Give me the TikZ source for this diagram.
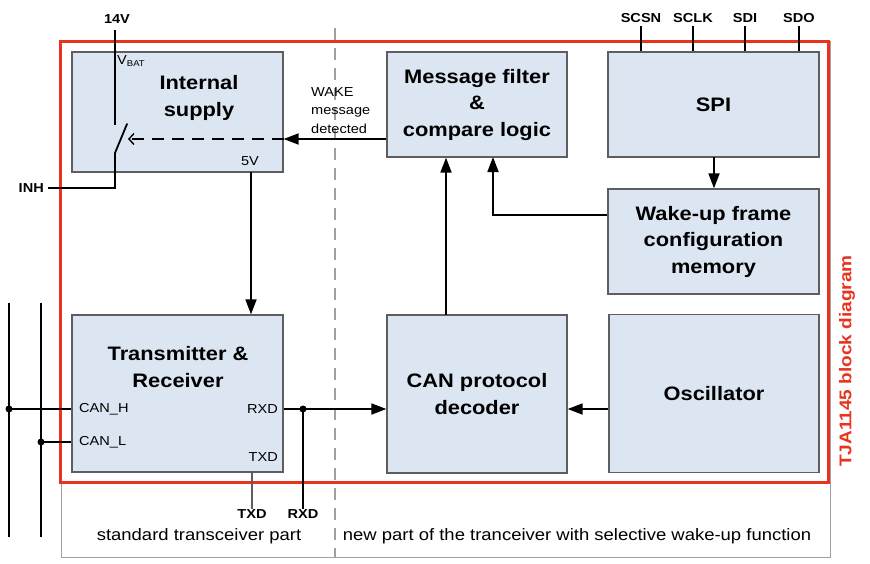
\documentclass[tikz,border=0pt]{standalone}
\usepackage{fontspec}
\setmainfont[FakeStretch=1.12]{Liberation Sans}
\usetikzlibrary{arrows.meta}
\definecolor{boxblue}{HTML}{DCE6F2}
\definecolor{boxline}{HTML}{5E5E5E}
\definecolor{tjared}{HTML}{E8331F}
\definecolor{framegray}{HTML}{A0A0A0}
\newcommand{\tjtitle}{\fontsize{19.5}{26.5}\selectfont\bfseries}
\newcommand{\tjlabel}{\fontsize{13}{18}\selectfont}
\begin{document}
\begin{tikzpicture}[x=1pt,y=-1pt,
  blk/.style={draw=boxline, fill=boxblue, line width=1.3pt, inner sep=0pt, align=center, font=\tjtitle},
  ttl/.style={inner sep=0pt, align=center, font=\tjtitle},
  lbl/.style={inner sep=0pt, font=\tjlabel},
  pin/.style={inner sep=0pt, font=\tjlabel\bfseries},
  wire/.style={line width=1.8pt, black},
  arr/.style={line width=1.8pt, black, -{Triangle[length=15pt,width=11pt]}},
  dot/.style={circle, fill=black, inner sep=0pt, minimum size=7pt}
]
\useasboundingbox (0,0) rectangle (870,563);

% frames
\draw[framegray, line width=1pt] (61,41) rectangle (830,557);
\draw[framegray, line width=1.6pt, dash pattern=on 12pt off 8pt] (335,28) -- (335,557);
\draw[tjared, line width=3pt] (60,41) rectangle (828,482);

% blocks
\node[blk, minimum width=211pt, minimum height=120pt] (sup) at (177.5,112) {};
\node[ttl] (supt) at (199,98) {Internal\\supply};
\node[blk, minimum width=180pt, minimum height=105pt] (msg) at (477,104.5) {Message filter\\\&\\compare logic};
\node[blk, minimum width=211pt, minimum height=105pt] (spi) at (713.5,104.5) {SPI};
\node[blk, minimum width=211pt, minimum height=105pt] (wak) at (713.5,241.5) {Wake-up frame\\configuration\\memory};
\node[blk, minimum width=211pt, minimum height=157pt] (trx) at (177.5,393.5) {};
\node[ttl] (trxt) at (178,367) {Transmitter \&\\Receiver};
\node[blk, minimum width=180pt, minimum height=158pt] (can) at (477,394) {CAN protocol\\decoder};
\node[blk, minimum width=210pt, minimum height=158pt] (osc) at (714,393.5) {Oscillator};

% labels inside blocks
\node[lbl, anchor=west] (vbat) at (117,61) {V\raisebox{-0.35ex}{\fontsize{8.5}{9}\selectfont BAT}};
\node[lbl] (fivev) at (250,161) {5V};
\node[lbl, anchor=west] (canh) at (79,409) {CAN\_H};
\node[lbl, anchor=west] (canl) at (79,442) {CAN\_L};
\node[lbl, anchor=east] (rxdin) at (278,409) {RXD};
\node[lbl, anchor=east] (txdin) at (278,457) {TXD};

% outside labels
\node[pin] (v14) at (117,19) {14V};
\node[pin, anchor=east] (inh) at (44,188) {INH};
\node[pin] (scsn) at (641,18) {SCSN};
\node[pin] (sclk) at (693,18) {SCLK};
\node[pin] (sdi) at (745,18) {SDI};
\node[pin] (sdo) at (799,18) {SDO};
\node[pin] (txdo) at (252,514) {TXD};
\node[pin] (rxdo) at (303,514) {RXD};
\node[lbl, anchor=west, align=left, font=\fontsize{13}{18.5}\selectfont] (wake) at (311,110.5) {WAKE\\message\\detected};
\node[inner sep=0pt, font=\fontsize{16.5}{20}\selectfont] (stdp) at (199,536) {standard transceiver part};
\node[inner sep=0pt, font=\fontsize{16.5}{20}\selectfont] (newp) at (577,536) {new part of the tranceiver with selective wake-up function};
\node[inner sep=0pt, rotate=90, text=tjared, font=\fontsize{17}{20}\selectfont\bfseries] (tja) at (847,361) {TJA1145 block diagram};

% switch
\coordinate (s14) at (115,30);
\coordinate (stop) at (115,125);
\coordinate (sbot) at (115,153);
\coordinate (sblade) at (127,124);
\coordinate (sinh) at (115,188);
\draw[wire] (s14) -- (stop);
\draw[wire, line cap=round] (sbot) -- (sblade);
\draw[wire] (sbot) -- (sinh) -- (inh.east -| 48,0);

% WAKE arrow and dashed control
\coordinate (wk) at ([yshift=-34.5pt]msg.west);
\draw[arr] (wk) -- (wk -| sup.east);
\coordinate (wksw) at (128,139);
\draw[line width=1.4pt, dash pattern=on 12pt off 8pt, -{Straight Barb[length=5pt,width=11pt]}] (wk -| sup.east) -- (wksw);

% 5V to transceiver
\coordinate (v5) at (251,172);
\draw[arr] (v5) -- (v5 |- trx.north);

% RXD path
\coordinate (rx) at ([yshift=-15.5pt]trx.east);
\node[dot] (rxdot) at (303,409) {};
\draw[arr] (rx) -- (rx -| can.west);
\draw[wire] (rxdot.center) -- (rxdo.north);
\coordinate (tx) at (252,472);
\draw[line width=1.3pt, boxline] (tx) -- (txdo.north);

% CAN bus
\coordinate (bh) at (9,303);
\coordinate (bl) at (41,303);
\draw[wire] (bh) -- (9,537);
\draw[wire] (bl) -- (41,537);
\node[dot] (dh) at (9,409) {};
\node[dot] (dl) at (41,442) {};
\draw[wire] (dh.center) -- (dh.center -| trx.west);
\draw[wire] (dl.center) -- (dl.center -| trx.west);

% right side connections
\coordinate (cu) at (446,315);
\draw[arr] (cu) -- (cu |- msg.south);
\coordinate (wu) at ([yshift=26.5pt]wak.west);
\draw[arr] (wu) -- (493,215) -- (493,157);
\coordinate (sd) at (714,157);
\draw[arr] (sd) -- (sd |- wak.north);
\coordinate (oc) at ([yshift=-15.5pt]osc.west);
\draw[arr] (oc) -- (oc -| can.east);

% SPI pins
\foreach \p in {scsn,sclk,sdi,sdo}{
  \draw[line width=1.8pt] ([yshift=-3pt]\p.south) -- (\p.south |- spi.north);
}
\end{tikzpicture}
\end{document}
